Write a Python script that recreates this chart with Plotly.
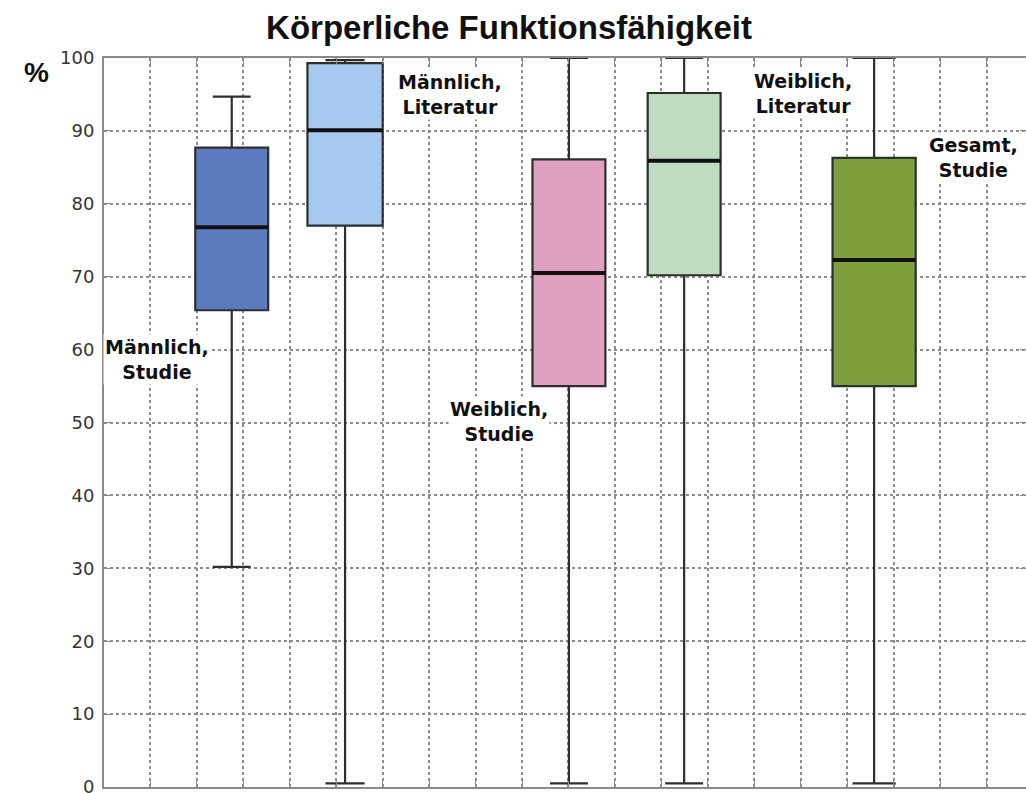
import plotly.graph_objects as go

# ---- data ----
groups = ["Männlich, Studie", "Männlich, Literatur", "Weiblich, Studie",
          "Weiblich, Literatur", "Gesamt, Studie"]
lower_whisker = [30.2, 0.5, 0.5, 0.5, 0.5]
q1 = [65.4, 77.0, 55.0, 70.2, 55.0]
median = [76.8, 90.1, 70.5, 85.9, 72.3]
q3 = [87.7, 99.3, 86.1, 95.2, 86.3]
upper_whisker = [94.7, 99.7, 100.0, 100.0, 100.0]
y_ticks = [0, 10, 20, 30, 40, 50, 60, 70, 80, 90, 100]

# ---- layout helpers (x positions in grid units) ----
x_pos = [2.75, 5.19, 10.01, 12.49, 16.58]
box_w = [1.57, 1.62, 1.57, 1.57, 1.79]
fills = ["#5b7bbe", "#a7c9ef", "#e0a0c0", "#c0dcc0", "#7f9e3c"]
label_pos = [(1.15, 58.6), (7.45, 95.0), (8.5, 50.2), (15.05, 95.1), (18.72, 86.3)]

fig = go.Figure()
for i, g in enumerate(groups):
    fig.add_trace(go.Box(
        x=[x_pos[i]], q1=[q1[i]], median=[median[i]], q3=[q3[i]],
        lowerfence=[lower_whisker[i]], upperfence=[upper_whisker[i]],
        name=g, width=box_w[i], whiskerwidth=0.52,
        fillcolor=fills[i], line=dict(color="#2e2e2e", width=2.2),
        hoverinfo="skip", showlegend=False,
    ))
    # thick black median line
    fig.add_trace(go.Scatter(
        x=[x_pos[i] - box_w[i] / 2, x_pos[i] + box_w[i] / 2],
        y=[median[i], median[i]], mode="lines",
        line=dict(color="#111111", width=4),
        hoverinfo="skip", showlegend=False,
    ))

for (lx, ly), g in zip(label_pos, groups):
    fig.add_annotation(
        x=lx, y=ly, xref="x", yref="y",
        text="<b>" + g.replace(", ", ",<br>") + "</b>",
        showarrow=False, bgcolor="white", borderpad=1,
        font=dict(family="DejaVu Sans", size=19, color="#111111"),
        align="center",
    )

fig.add_annotation(
    x=(22 - 104) / 922, y=(787 - 55) / 729, xref="paper", yref="paper",
    text="<b>%</b>", showarrow=False,
    font=dict(family="Liberation Sans", size=28, color="#111111"),
)

fig.update_layout(
    width=1026, height=793,
    margin=dict(l=104, r=0, t=58, b=6, autoexpand=False),
    paper_bgcolor="white", plot_bgcolor="white",
    boxmode="overlay",
    title=dict(
        text="<b>Körperliche Funktionsfähigkeit</b>",
        x=509 / 1026, xref="container", xanchor="center",
        y=1 - 27 / 793, yref="container", yanchor="middle",
        font=dict(family="Liberation Sans", size=33, color="#111111"),
    ),
)
fig.update_xaxes(
    range=[0, 19.85], dtick=1, tick0=0, showticklabels=False, automargin=False,
    showgrid=True, gridcolor="#8c8c8c", gridwidth=1.5, griddash="dot",
    showline=True, linecolor="#8a8a8a", linewidth=2, mirror="ticks",
    ticks="inside", ticklen=6, tickcolor="#8a8a8a", zeroline=False,
)
fig.update_yaxes(
    range=[0, 100], tickvals=y_ticks, ticktext=[str(v) for v in y_ticks],
    automargin=False,
    showgrid=True, gridcolor="#8c8c8c", gridwidth=1.5, griddash="dot",
    showline=True, linecolor="#8a8a8a", linewidth=2, mirror="ticks",
    ticks="inside", ticklen=6, tickcolor="#8a8a8a", zeroline=False,
    tickfont=dict(family="DejaVu Sans", size=18, color="#333333"),
    ticklabeloverflow="allow", ticklabelstandoff=4,
)

fig.write_html("out.html")
